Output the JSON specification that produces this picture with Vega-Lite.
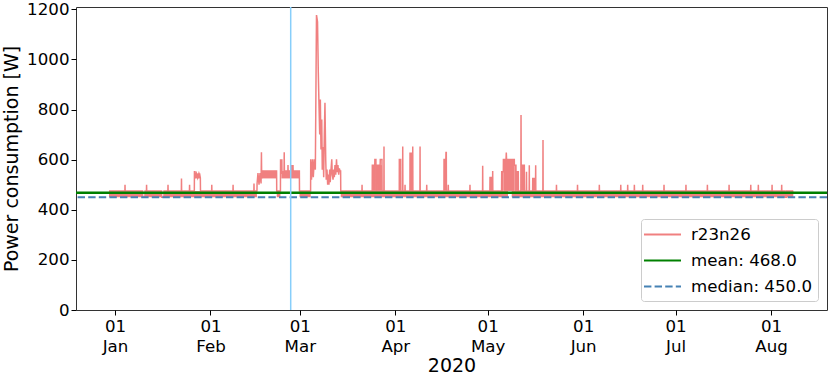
{
"$schema": "https://vega.github.io/schema/vega-lite/v6.json",
"width": 751, "height": 303,
"autosize": {"type": "none"},
"padding": {"left": 76, "top": 7, "right": 3, "bottom": 68},
"background": "white",
"config": {
  "view": {"stroke": "#333333", "strokeWidth": 1},
  "font": "DejaVu Sans",
  "axis": {"labelFont": "DejaVu Sans", "labelFontSize": 16.67, "labelColor": "#000000", "titleFont": "DejaVu Sans", "titleFontSize": 19, "titleFontWeight": "normal", "titleColor": "#000000", "tickColor": "#000000", "tickSize": 5, "tickWidth": 1, "domain": false, "grid": false},
  "legend": {"orient": "bottom-right", "offset": 9, "title": null, "symbolType": "M-2,0H2", "symbolSize": 342, "symbolStrokeWidth": 2, "symbolOffset": 6, "labelFont": "DejaVu Sans", "labelFontSize": 16.67, "labelColor": "#000000", "labelOffset": 18, "padding": 5, "rowPadding": 6, "strokeColor": "#cccccc", "fillColor": "#ffffff", "cornerRadius": 3}
},
"datasets": {
  "band": [
    {"t0": "2019-12-30T01:00", "t1": "2020-01-09T23:00", "lo": 450, "hi": 475},
    {"t0": "2020-01-10T18:00", "t1": "2020-01-16T03:00", "lo": 450, "hi": 475},
    {"t0": "2020-01-16T22:00", "t1": "2020-02-16T02:00", "lo": 450, "hi": 475},
    {"t0": "2020-02-22T12:00", "t1": "2020-02-23T17:00", "lo": 450, "hi": 475},
    {"t0": "2020-02-29T21:30", "t1": "2020-03-04T13:00", "lo": 450, "hi": 475},
    {"t0": "2020-03-14T06:45", "t1": "2020-05-07T14:30", "lo": 450, "hi": 475},
    {"t0": "2020-05-08T19:15", "t1": "2020-08-05T12:00", "lo": 450, "hi": 475},
    {"t0": "2020-08-06T00:30", "t1": "2020-08-08T05:30", "lo": 450, "hi": 475},
    {"t0": "2020-01-26T22:00", "t1": "2020-01-28T18:00", "lo": 525, "hi": 545},
    {"t0": "2020-02-17T16:00", "t1": "2020-02-22T11:00", "lo": 525, "hi": 555},
    {"t0": "2020-02-24T00:00", "t1": "2020-02-29T20:30", "lo": 525, "hi": 555},
    {"t0": "2020-03-24T13:00", "t1": "2020-03-25T17:00", "lo": 475, "hi": 578},
    {"t0": "2020-03-26T04:00", "t1": "2020-03-27T16:00", "lo": 475, "hi": 578},
    {"t0": "2020-04-02T07:30", "t1": "2020-04-02T18:00", "lo": 475, "hi": 601},
    {"t0": "2020-04-05T18:45", "t1": "2020-04-06T10:15", "lo": 475, "hi": 625},
    {"t0": "2020-04-16T19:45", "t1": "2020-04-17T13:30", "lo": 475, "hi": 601},
    {"t0": "2020-05-01T18:00", "t1": "2020-05-02T05:45", "lo": 475, "hi": 529},
    {"t0": "2020-05-05T13:15", "t1": "2020-05-06T01:45", "lo": 475, "hi": 552},
    {"t0": "2020-05-06T01:45", "t1": "2020-05-09T15:30", "lo": 475, "hi": 601},
    {"t0": "2020-05-09T15:30", "t1": "2020-05-10T04:30", "lo": 475, "hi": 578},
    {"t0": "2020-05-10T04:30", "t1": "2020-05-10T22:30", "lo": 475, "hi": 552},
    {"t0": "2020-05-11T20:00", "t1": "2020-05-12T21:30", "lo": 475, "hi": 578},
    {"t0": "2020-05-15T15:00", "t1": "2020-05-16T13:00", "lo": 475, "hi": 525}
  ],
  "series": [
    {"t": "2019-12-30T01:00", "w": 475},
    {"t": "2020-01-04T05:00", "w": 475}, {"t": "2020-01-04T06:00", "w": 500}, {"t": "2020-01-04T07:00", "w": 475},
    {"t": "2020-01-09T23:00", "w": 475}, {"t": "2020-01-10T00:00", "w": 450}, {"t": "2020-01-10T17:00", "w": 450}, {"t": "2020-01-10T18:00", "w": 475},
    {"t": "2020-01-11T05:00", "w": 475}, {"t": "2020-01-11T06:00", "w": 500}, {"t": "2020-01-11T07:00", "w": 475},
    {"t": "2020-01-16T03:00", "w": 475}, {"t": "2020-01-16T04:00", "w": 450}, {"t": "2020-01-16T21:00", "w": 450}, {"t": "2020-01-16T22:00", "w": 475},
    {"t": "2020-01-18T04:00", "w": 475}, {"t": "2020-01-18T05:00", "w": 500}, {"t": "2020-01-18T06:00", "w": 475},
    {"t": "2020-01-22T13:00", "w": 475}, {"t": "2020-01-22T14:00", "w": 525}, {"t": "2020-01-22T15:00", "w": 475},
    {"t": "2020-01-25T04:00", "w": 475}, {"t": "2020-01-25T05:00", "w": 500}, {"t": "2020-01-25T06:00", "w": 475},
    {"t": "2020-01-26T18:00", "w": 475}, {"t": "2020-01-26T19:00", "w": 552}, {"t": "2020-01-26T23:00", "w": 552}, {"t": "2020-01-27T00:00", "w": 527}, {"t": "2020-01-27T10:00", "w": 545}, {"t": "2020-01-27T20:00", "w": 527}, {"t": "2020-01-28T06:00", "w": 545}, {"t": "2020-01-28T17:00", "w": 527}, {"t": "2020-01-28T18:00", "w": 475},
    {"t": "2020-02-01T09:00", "w": 475}, {"t": "2020-02-01T10:00", "w": 500}, {"t": "2020-02-01T11:00", "w": 475},
    {"t": "2020-02-08T07:00", "w": 475}, {"t": "2020-02-08T08:00", "w": 500}, {"t": "2020-02-08T09:00", "w": 475},
    {"t": "2020-02-15T02:00", "w": 475}, {"t": "2020-02-15T03:00", "w": 505}, {"t": "2020-02-15T04:00", "w": 475},
    {"t": "2020-02-16T02:00", "w": 475}, {"t": "2020-02-16T03:00", "w": 505}, {"t": "2020-02-16T10:00", "w": 546}, {"t": "2020-02-16T18:00", "w": 500}, {"t": "2020-02-17T02:00", "w": 546}, {"t": "2020-02-17T10:00", "w": 505}, {"t": "2020-02-17T13:00", "w": 629}, {"t": "2020-02-17T15:00", "w": 525}, {"t": "2020-02-17T16:00", "w": 555}, {"t": "2020-02-22T11:00", "w": 555}, {"t": "2020-02-22T11:30", "w": 525}, {"t": "2020-02-22T12:00", "w": 475},
    {"t": "2020-02-23T17:00", "w": 475}, {"t": "2020-02-23T18:00", "w": 599}, {"t": "2020-02-24T04:00", "w": 599}, {"t": "2020-02-24T05:00", "w": 546}, {"t": "2020-02-24T21:00", "w": 546}, {"t": "2020-02-24T22:30", "w": 629}, {"t": "2020-02-25T00:00", "w": 555}, {"t": "2020-02-26T03:00", "w": 555}, {"t": "2020-02-26T04:00", "w": 578}, {"t": "2020-02-26T05:00", "w": 555}, {"t": "2020-02-27T06:00", "w": 555}, {"t": "2020-02-27T07:00", "w": 578}, {"t": "2020-02-27T08:00", "w": 555}, {"t": "2020-02-27T18:00", "w": 555}, {"t": "2020-02-27T19:00", "w": 578}, {"t": "2020-02-27T20:00", "w": 555}, {"t": "2020-02-29T20:30", "w": 555}, {"t": "2020-02-29T21:30", "w": 475},
    {"t": "2020-03-04T12:00", "w": 475}, {"t": "2020-03-04T13:00", "w": 601}, {"t": "2020-03-04T19:00", "w": 520}, {"t": "2020-03-05T03:00", "w": 601}, {"t": "2020-03-05T09:00", "w": 530}, {"t": "2020-03-05T17:00", "w": 601}, {"t": "2020-03-06T01:00", "w": 560}, {"t": "2020-03-06T10:00", "w": 1177}, {"t": "2020-03-06T18:00", "w": 1150}, {"t": "2020-03-07T00:00", "w": 950}, {"t": "2020-03-07T05:00", "w": 830}, {"t": "2020-03-07T11:00", "w": 700}, {"t": "2020-03-07T16:00", "w": 840}, {"t": "2020-03-07T21:00", "w": 640}, {"t": "2020-03-08T03:00", "w": 760}, {"t": "2020-03-08T07:00", "w": 560}, {"t": "2020-03-08T13:00", "w": 650}, {"t": "2020-03-08T18:00", "w": 530}, {"t": "2020-03-08T23:00", "w": 700}, {"t": "2020-03-09T04:00", "w": 827}, {"t": "2020-03-09T10:00", "w": 600}, {"t": "2020-03-09T14:00", "w": 520}, {"t": "2020-03-09T20:00", "w": 560}, {"t": "2020-03-10T01:00", "w": 500}, {"t": "2020-03-10T06:00", "w": 540}, {"t": "2020-03-10T11:00", "w": 500}, {"t": "2020-03-10T17:00", "w": 560}, {"t": "2020-03-10T21:00", "w": 510}, {"t": "2020-03-11T03:00", "w": 560}, {"t": "2020-03-11T09:00", "w": 601}, {"t": "2020-03-11T13:00", "w": 540}, {"t": "2020-03-11T19:00", "w": 520}, {"t": "2020-03-12T00:00", "w": 560}, {"t": "2020-03-12T05:00", "w": 530}, {"t": "2020-03-12T10:00", "w": 578}, {"t": "2020-03-12T16:00", "w": 540}, {"t": "2020-03-12T22:00", "w": 601}, {"t": "2020-03-13T03:00", "w": 550}, {"t": "2020-03-13T09:00", "w": 578}, {"t": "2020-03-13T15:00", "w": 540}, {"t": "2020-03-13T20:00", "w": 565}, {"t": "2020-03-14T01:00", "w": 555}, {"t": "2020-03-14T06:00", "w": 555}, {"t": "2020-03-14T07:00", "w": 475},
    {"t": "2020-03-21T04:00", "w": 475}, {"t": "2020-03-21T05:00", "w": 500}, {"t": "2020-03-21T06:00", "w": 475},
    {"t": "2020-03-24T12:00", "w": 475}, {"t": "2020-03-24T13:00", "w": 578}, {"t": "2020-03-25T08:00", "w": 578}, {"t": "2020-03-25T09:00", "w": 601}, {"t": "2020-03-25T17:00", "w": 601}, {"t": "2020-03-25T18:00", "w": 475}, {"t": "2020-03-26T03:00", "w": 475}, {"t": "2020-03-26T04:00", "w": 578}, {"t": "2020-03-27T02:00", "w": 578}, {"t": "2020-03-27T03:00", "w": 601}, {"t": "2020-03-27T16:00", "w": 601}, {"t": "2020-03-27T17:00", "w": 475},
    {"t": "2020-03-28T07:00", "w": 475}, {"t": "2020-03-28T08:00", "w": 652}, {"t": "2020-03-28T09:00", "w": 475},
    {"t": "2020-04-02T07:00", "w": 475}, {"t": "2020-04-02T07:30", "w": 601}, {"t": "2020-04-02T18:00", "w": 601}, {"t": "2020-04-02T18:30", "w": 475},
    {"t": "2020-04-03T09:00", "w": 475}, {"t": "2020-04-03T10:00", "w": 652}, {"t": "2020-04-03T11:00", "w": 475},
    {"t": "2020-04-04T03:00", "w": 475}, {"t": "2020-04-04T04:00", "w": 500}, {"t": "2020-04-04T05:00", "w": 475},
    {"t": "2020-04-05T18:00", "w": 475}, {"t": "2020-04-05T18:45", "w": 625}, {"t": "2020-04-06T10:15", "w": 625}, {"t": "2020-04-06T11:00", "w": 475},
    {"t": "2020-04-06T15:00", "w": 475}, {"t": "2020-04-06T16:00", "w": 652}, {"t": "2020-04-06T17:00", "w": 475},
    {"t": "2020-04-09T00:00", "w": 475}, {"t": "2020-04-09T01:00", "w": 652}, {"t": "2020-04-09T02:00", "w": 475},
    {"t": "2020-04-11T04:00", "w": 475}, {"t": "2020-04-11T05:00", "w": 500}, {"t": "2020-04-11T06:00", "w": 475},
    {"t": "2020-04-16T19:00", "w": 475}, {"t": "2020-04-16T19:45", "w": 601}, {"t": "2020-04-17T10:00", "w": 601}, {"t": "2020-04-17T11:00", "w": 628}, {"t": "2020-04-17T13:30", "w": 628}, {"t": "2020-04-17T14:30", "w": 475},
    {"t": "2020-04-18T04:00", "w": 475}, {"t": "2020-04-18T05:00", "w": 500}, {"t": "2020-04-18T06:00", "w": 475},
    {"t": "2020-04-25T05:00", "w": 475}, {"t": "2020-04-25T06:00", "w": 500}, {"t": "2020-04-25T07:00", "w": 475},
    {"t": "2020-04-29T08:00", "w": 475}, {"t": "2020-04-29T09:00", "w": 576}, {"t": "2020-04-29T10:00", "w": 475},
    {"t": "2020-05-01T17:00", "w": 475}, {"t": "2020-05-01T18:00", "w": 529}, {"t": "2020-05-02T05:45", "w": 529}, {"t": "2020-05-02T06:30", "w": 475}, {"t": "2020-05-02T14:00", "w": 475}, {"t": "2020-05-02T15:00", "w": 555}, {"t": "2020-05-02T16:00", "w": 475},
    {"t": "2020-05-05T12:00", "w": 475}, {"t": "2020-05-05T13:15", "w": 552}, {"t": "2020-05-06T01:45", "w": 552}, {"t": "2020-05-06T02:30", "w": 601}, {"t": "2020-05-06T23:00", "w": 601}, {"t": "2020-05-07T01:00", "w": 628}, {"t": "2020-05-07T03:00", "w": 601}, {"t": "2020-05-08T19:15", "w": 601}, {"t": "2020-05-09T15:30", "w": 601}, {"t": "2020-05-09T16:00", "w": 578}, {"t": "2020-05-10T04:00", "w": 578}, {"t": "2020-05-10T04:30", "w": 552}, {"t": "2020-05-10T22:30", "w": 552}, {"t": "2020-05-10T23:00", "w": 475},
    {"t": "2020-05-11T18:30", "w": 475}, {"t": "2020-05-11T19:45", "w": 778}, {"t": "2020-05-11T21:00", "w": 578}, {"t": "2020-05-12T21:30", "w": 578}, {"t": "2020-05-12T22:30", "w": 475},
    {"t": "2020-05-13T13:30", "w": 475}, {"t": "2020-05-13T14:30", "w": 552}, {"t": "2020-05-13T15:30", "w": 475},
    {"t": "2020-05-14T11:15", "w": 475}, {"t": "2020-05-14T12:15", "w": 578}, {"t": "2020-05-14T13:15", "w": 475},
    {"t": "2020-05-15T14:00", "w": 475}, {"t": "2020-05-15T15:00", "w": 525}, {"t": "2020-05-16T13:00", "w": 525}, {"t": "2020-05-16T14:00", "w": 578}, {"t": "2020-05-16T15:00", "w": 475},
    {"t": "2020-05-18T22:00", "w": 475}, {"t": "2020-05-18T23:00", "w": 678}, {"t": "2020-05-19T00:00", "w": 475},
    {"t": "2020-05-23T07:00", "w": 475}, {"t": "2020-05-23T08:00", "w": 500}, {"t": "2020-05-23T09:00", "w": 475},
    {"t": "2020-05-30T03:00", "w": 475}, {"t": "2020-05-30T04:00", "w": 500}, {"t": "2020-05-30T05:00", "w": 475},
    {"t": "2020-06-06T05:00", "w": 475}, {"t": "2020-06-06T06:00", "w": 500}, {"t": "2020-06-06T07:00", "w": 475},
    {"t": "2020-06-13T04:00", "w": 475}, {"t": "2020-06-13T05:00", "w": 500}, {"t": "2020-06-13T06:00", "w": 475},
    {"t": "2020-06-15T10:00", "w": 475}, {"t": "2020-06-15T11:00", "w": 500}, {"t": "2020-06-15T12:00", "w": 475},
    {"t": "2020-06-17T14:00", "w": 475}, {"t": "2020-06-17T15:00", "w": 500}, {"t": "2020-06-17T16:00", "w": 475},
    {"t": "2020-06-20T07:00", "w": 475}, {"t": "2020-06-20T08:00", "w": 500}, {"t": "2020-06-20T09:00", "w": 475},
    {"t": "2020-06-27T05:00", "w": 475}, {"t": "2020-06-27T06:00", "w": 500}, {"t": "2020-06-27T07:00", "w": 475},
    {"t": "2020-07-04T08:00", "w": 475}, {"t": "2020-07-04T09:00", "w": 500}, {"t": "2020-07-04T10:00", "w": 475},
    {"t": "2020-07-11T07:00", "w": 475}, {"t": "2020-07-11T08:00", "w": 500}, {"t": "2020-07-11T09:00", "w": 475},
    {"t": "2020-07-18T08:00", "w": 475}, {"t": "2020-07-18T09:00", "w": 500}, {"t": "2020-07-18T10:00", "w": 475},
    {"t": "2020-07-25T09:00", "w": 475}, {"t": "2020-07-25T10:00", "w": 500}, {"t": "2020-07-25T11:00", "w": 475},
    {"t": "2020-07-27T20:00", "w": 475}, {"t": "2020-07-27T21:00", "w": 500}, {"t": "2020-07-27T22:00", "w": 475},
    {"t": "2020-08-01T07:00", "w": 475}, {"t": "2020-08-01T08:00", "w": 500}, {"t": "2020-08-01T09:00", "w": 475},
    {"t": "2020-08-04T10:00", "w": 475}, {"t": "2020-08-04T11:00", "w": 500}, {"t": "2020-08-04T12:00", "w": 475},
    {"t": "2020-08-05T12:00", "w": 475}, {"t": "2020-08-05T13:00", "w": 450}, {"t": "2020-08-06T00:00", "w": 450}, {"t": "2020-08-06T00:30", "w": 475},
    {"t": "2020-08-08T05:30", "w": 475}
  ],
  "stats": [
    {"series": "mean: 468.0", "v": 468},
    {"series": "median: 450.0", "v": 450}
  ],
  "marker": [
    {"t": "2020-02-27T01:00"}
  ]
},
"layer": [
  {
    "data": {"name": "band"},
    "mark": {"type": "rect", "color": "#f08080"},
    "encoding": {
      "x": {"field": "t0", "type": "temporal",
        "scale": {"domain": [{"year": 2019, "month": 12, "date": 19, "hours": 8}, {"year": 2020, "month": 8, "date": 19, "hours": 4}], "nice": false},
        "axis": {"values": [{"year": 2020, "month": 1, "date": 1}, {"year": 2020, "month": 2, "date": 1}, {"year": 2020, "month": 3, "date": 1}, {"year": 2020, "month": 4, "date": 1}, {"year": 2020, "month": 5, "date": 1}, {"year": 2020, "month": 6, "date": 1}, {"year": 2020, "month": 7, "date": 1}, {"year": 2020, "month": 8, "date": 1}],
          "labelExpr": "[timeFormat(datum.value, '%d'), timeFormat(datum.value, '%b')]",
          "title": "2020", "labelLineHeight": 20, "labelPadding": 3, "titlePadding": 2, "labelOverlap": false, "labelFlush": false}},
      "x2": {"field": "t1"},
      "y": {"field": "lo", "type": "quantitative",
        "scale": {"domain": [0, 1209], "nice": false, "zero": false},
        "axis": {"values": [0, 200, 400, 600, 800, 1000, 1200], "format": "d", "title": "Power consumption [W]", "titlePadding": 5, "labelPadding": 2}},
      "y2": {"field": "hi"}
    }
  },
  {
    "data": {"name": "series"},
    "mark": {"type": "line", "interpolate": "linear", "strokeWidth": 1.5},
    "encoding": {
      "x": {"field": "t", "type": "temporal"},
      "y": {"field": "w", "type": "quantitative"},
      "color": {"datum": "r23n26", "type": "nominal",
        "scale": {"domain": ["r23n26", "mean: 468.0", "median: 450.0"], "range": ["#f08080", "#008000", "#4682b4"]},
        "legend": {"title": null}},
      "strokeDash": {"datum": "r23n26", "type": "nominal",
        "scale": {"domain": ["r23n26", "mean: 468.0", "median: 450.0"], "range": [[1, 0], [1, 0], [7.4, 3.2]]},
        "legend": {"title": null}}
    }
  },
  {
    "data": {"name": "stats"},
    "transform": [{"filter": "datum.v > 460"}],
    "mark": {"type": "rule", "strokeWidth": 2.5},
    "encoding": {
      "y": {"field": "v", "type": "quantitative"},
      "color": {"field": "series", "type": "nominal", "legend": {"title": null}},
      "strokeDash": {"field": "series", "type": "nominal", "legend": {"title": null}}
    }
  },
  {
    "data": {"name": "stats"},
    "transform": [{"filter": "datum.v < 460"}],
    "mark": {"type": "rule", "strokeWidth": 2},
    "encoding": {
      "y": {"field": "v", "type": "quantitative"},
      "color": {"field": "series", "type": "nominal", "legend": {"title": null}},
      "strokeDash": {"field": "series", "type": "nominal", "legend": {"title": null}}
    }
  },
  {
    "data": {"name": "marker"},
    "mark": {"type": "rule", "color": "#87cefa", "strokeWidth": 1.5},
    "encoding": {
      "x": {"field": "t", "type": "temporal"}
    }
  }
]
}
